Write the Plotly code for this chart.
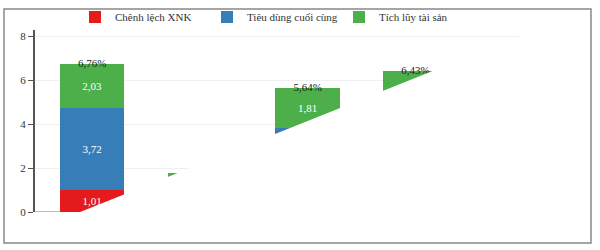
import plotly.graph_objects as go

categories = ["Giai đoạn 1", "Giai đoạn 2", "Giai đoạn 3", "Giai đoạn 4"]
series_names = ["Chênh lệch XNK", "Tiêu dùng cuối cùng", "Tích lũy tài sản"]
chenh_lech_xnk = [1.01, 0.30, 0.50, 0.93]
tieu_dung = [3.72, 0.88, 3.33, 4.00]
tich_luy = [2.03, 0.60, 1.81, 1.50]
totals = [6.76, 1.78, 5.64, 6.43]
# which value labels are legible in the reference (others are masked)
label_shown = {
    "Chênh lệch XNK": [True, False, False, False],
    "Tiêu dùng cuối cùng": [True, False, False, False],
    "Tích lũy tài sản": [True, False, True, False],
    "total": [True, False, True, True],
}
colors = ["#e41a1c", "#377eb8", "#4daf4a"]

FONT = "Liberation Serif"
xpos = list(range(len(categories)))

fig = go.Figure()
for name, vals, col in zip(series_names, [chenh_lech_xnk, tieu_dung, tich_luy], colors):
    fig.add_trace(go.Bar(
        x=xpos, y=vals, name=name, marker=dict(color=col, line=dict(width=0)),
        texttemplate=["%{y:.2f}" if s else "" for s in label_shown[name]],
        textposition="inside", insidetextanchor="middle",
        textfont=dict(family=FONT, size=11, color="white"),
        hovertext=categories,
    ))

fig.add_trace(go.Scatter(
    x=xpos, y=totals, mode="text",
    texttemplate=["%{y:.2f}%" if s else "" for s in label_shown["total"]],
    textposition="middle center", textfont=dict(family=FONT, size=11, color="#222"),
    showlegend=False, hoverinfo="skip",
))

# baseline on the left
fig.add_shape(type="line", xref="x", yref="y", x0=-0.53, x1=0, y0=0, y1=0,
              line=dict(color="#bbbbbb", width=2), layer="below")
# white wedge masking the lower-right part of the plot
fig.add_shape(type="path", xref="x", yref="y",
              path="M -0.111,0 L 5,10.05 L 5,-1 L -0.111,-1 Z",
              fillcolor="white", line=dict(width=0), layer="above")
# outer frame
fig.add_shape(type="rect", xref="paper", yref="paper",
              x0=-0.0574, x1=1.0296, y0=-0.1703, y1=1.1154,
              line=dict(color="#888888", width=1.5), fillcolor="rgba(0,0,0,0)", layer="below")

fig.update_layout(
    width=600, height=250,
    margin=dict(l=35, r=25, t=30, b=38, autoexpand=False),
    barmode="stack", bargap=0.4,
    separators=",.",
    plot_bgcolor="white", paper_bgcolor="white",
    font=dict(family=FONT, size=11, color="#333"),
    showlegend=True,
    legend=dict(orientation="h", xref="container", yref="container",
                x=0.455, xanchor="center", y=0.99, yanchor="top",
                bgcolor="rgba(0,0,0,0)",
                font=dict(family=FONT, size=11, color="#333"),
                entrywidth=87, traceorder="normal"),
    xaxis=dict(range=[-0.53, 4.48], tickvals=xpos, ticktext=categories,
               showticklabels=False, showgrid=False, zeroline=False, showline=False, ticks=""),
    yaxis=dict(range=[0, 8.3], tickvals=[0, 2, 4, 6, 8], showgrid=True, gridcolor="#efefef",
               zeroline=False, showline=True, linecolor="#555555", linewidth=2,
               ticks="outside", ticklen=5, tickcolor="#555555",
               tickfont=dict(family=FONT, size=11, color="#333")),
)

fig.write_html("out.html")
